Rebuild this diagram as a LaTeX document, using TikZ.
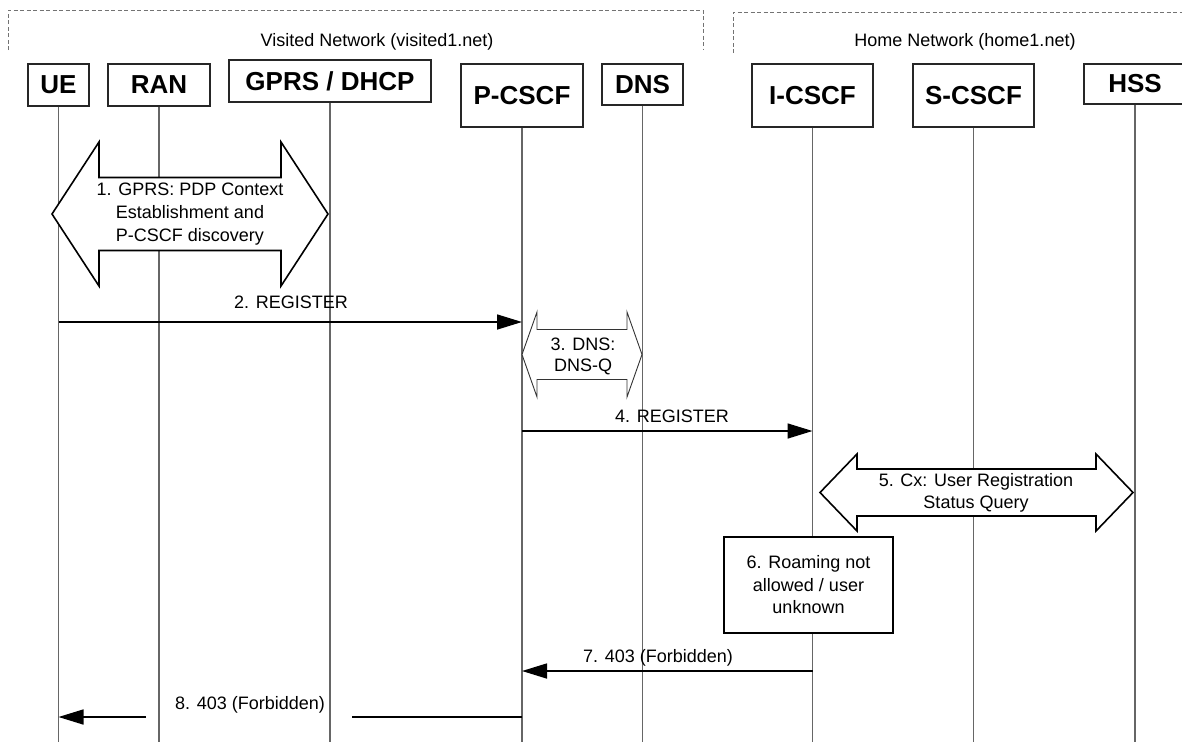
\documentclass[tikz,border=0pt]{standalone}
\usepackage{fontspec}
\setmainfont{Liberation Sans}
\usetikzlibrary{arrows.meta,calc}
\newcommand\entfont{\fontsize{26}{30}\selectfont\bfseries}
\newcommand\msgfont{\fontsize{18}{22.5}\selectfont}
\begin{document}
\begin{tikzpicture}[x=1pt,y=-1pt,
  ent/.style={draw=black!85, line width=1.1pt, fill=white, inner sep=0pt, font=\entfont},
  life/.style={draw=black!60, line width=1.1pt},
  net/.style={draw=black!55, line width=0.9pt, dash pattern=on 4pt off 2.5pt},
  msgl/.style={line width=1.6pt},
  msgarrow/.style={msgl, -{Triangle[length=25pt,width=15pt]}},
  lbl/.style={font=\msgfont, inner sep=0pt},
  dbl/.style={draw=black, line width=1.6pt, fill=white, line join=miter},
  thindbl/.style={draw=black!80, line width=0.9pt, fill=white, line join=miter},
  notebox/.style={draw=black, line width=1.6pt, fill=white, inner sep=0pt, font=\msgfont, align=center}]
\useasboundingbox (0,0) rectangle (1182,742);
\clip (0,0) rectangle (1182,742);
% network brackets
\draw[net] (8,50) -- (8,10) -- (703,10) -- (703,50);
\draw[net] (733,53) -- (733,12) -- (1195,12);
\node[lbl] (vis) at (377,42) {Visited Network (visited1.net)};
\node[lbl] (home) at (965,42) {Home Network (home1.net)};
% entities
\node[ent, minimum width=61, minimum height=42] (ue) at (58.5,85) {UE};
\node[ent, minimum width=102, minimum height=42] (ran) at (159,85) {RAN};
\node[ent, minimum width=202, minimum height=42] (gprs) at (330,81) {GPRS / DHCP};
\node[ent, minimum width=122, minimum height=63] (pcscf) at (522,95.5) {P-CSCF};
\node[ent, minimum width=81, minimum height=41] (dns) at (642.5,84.5) {DNS};
\node[ent, minimum width=121, minimum height=63] (icscf) at (812.5,95.5) {I-CSCF};
\node[ent, minimum width=121, minimum height=63] (scscf) at (973.5,95.5) {S-CSCF};
\node[ent, minimum width=102, minimum height=40] (hss) at (1135,84) {HSS};
% lifelines
\foreach \n in {ue,ran,gprs,pcscf,dns,icscf,scscf,hss}{
  \coordinate (\n-end) at (\n.south |- 0,742);
  \draw[life] (\n.south) -- (\n-end);
}
% 1. big double arrow
\draw[dbl] (52,214) -- (99,142) -- (99,177.5) -- (281,177.5) -- (281,142) -- (328,214)
  -- (281,286) -- (281,250.5) -- (99,250.5) -- (99,286) -- cycle;
\node[lbl, align=center, font=\fontsize{18}{23}\selectfont] (t1) at (190,214) {1. GPRS: PDP Context\\Establishment and\\P-CSCF discovery};
% 2. REGISTER
\coordinate (m2a) at (ue |- 0,322);
\coordinate (m2b) at (pcscf |- 0,322);
\draw[msgarrow] (m2a) -- (m2b);
\node[lbl] (l2) at (291,302) {2. REGISTER};
% 3. DNS
\draw[thindbl] (522,354.5) -- (537,312) -- (537,329.5) -- (627,329.5) -- (627,312) -- (642,354.5)
  -- (627,397) -- (627,379.5) -- (537,379.5) -- (537,397) -- cycle;
\node[lbl, align=center, font=\fontsize{18}{21}\selectfont] (t3) at (583,356.5) {3. DNS:\\DNS-Q};
% 4. REGISTER
\coordinate (m4a) at (pcscf |- 0,431);
\coordinate (m4b) at (icscf |- 0,431);
\draw[msgarrow] (m4a) -- (m4b);
\node[lbl] (l4) at (672,416) {4. REGISTER};
% 5. Cx
\draw[dbl] (820,492.5) -- (857,454) -- (857,469) -- (1096,469) -- (1096,454) -- (1133,492.5)
  -- (1096,531) -- (1096,516) -- (857,516) -- (857,531) -- cycle;
\node[lbl, align=center, font=\fontsize{18}{22}\selectfont] (t5) at (976,492.5) {5. Cx: User Registration\\Status Query};
% 6. note
\node[notebox, minimum width=169, minimum height=96] (n6) at (808.5,585) {6. Roaming not\\allowed / user\\unknown};
% 7. 403
\coordinate (m7a) at (icscf |- 0,671);
\coordinate (m7b) at (pcscf |- 0,671);
\draw[msgarrow] (m7a) -- (m7b);
\node[lbl] (l7) at (658,658) {7. 403 (Forbidden)};
% 8. 403
\coordinate (m8a) at (pcscf |- 0,717);
\coordinate (m8g1) at (352,717);
\coordinate (m8g2) at (146,717);
\coordinate (m8b) at (ue |- 0,717);
\draw[msgl] (m8a) -- (m8g1);
\draw[msgarrow] (m8g2) -- (m8b);
\node[lbl] (l8) at (250,705) {8. 403 (Forbidden)};
\end{tikzpicture}
\end{document}
